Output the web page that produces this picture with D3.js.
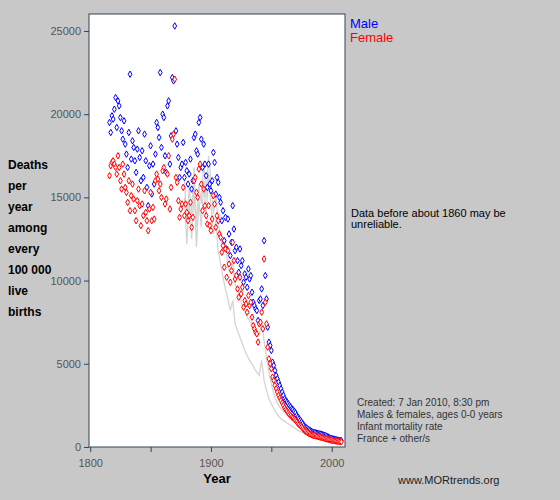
<!DOCTYPE html>
<html lang="en">
<head>
<meta charset="UTF-8" />
<script src="https://cdn.jsdelivr.net/npm/d3@7"></script>
<style>
  body { margin: 0; background: #c8c8c8; font-family: Arial, "Liberation Sans", sans-serif; }
  .tick text { fill: #555; font-size: 11px; }
  .tick line, .domain { stroke: #345; }
</style>
</head>
<body>
<svg id="chart" width="560" height="500"></svg>
<script>
  // infant mortality, deaths per 100 000 live births
  var firstYear = 1816;
  var male = [
    19500,18900,19900,19700,20300,21000,19200,20800,20500,19800,
    19000,18500,19600,18200,17600,16800,18900,22400,17300,18400,
    18000,17200,16500,17900,19000,17400,16000,17800,16200,18800,
    17200,15600,14500,16900,18100,15200,17000,15800,17600,19500,
    19200,18600,22500,18000,20000,19800,17500,16500,20500,20800,
    17000,18700,22200,22000,25300,19000,18200,17400,16200,16800,
    17000,18300,16200,17100,16600,15800,16400,17300,15500,16000,
    18600,18800,17800,17600,19500,19800,18500,16800,18200,17000,
    16300,15600,17000,15800,15400,16000,17700,17100,15200,16200,
    15900,15000,14700,13600,14200,12400,13800,11900,13700,12800,
    11500,12300,14500,13100,11800,12000,11200,10500,11900,10900,
    11200,9900,10400,10200,9600,10700,10100,10300,9300,8700,
    8500,8300,8200,7600,8800,8900,9500,8500,12400,10300,
    8900,7200,6300,6100,5800,5100,4900,4600,4300,4100,
    3900,3700,3500,3300,3100,2900,2800,2700,2600,2500,
    2400,2300,2250,2150,2050,1900,1800,1700,1600,1500,
    1400,1300,1200,1150,1100,1050,1000,950,900,880,
    870,850,820,800,790,780,760,720,700,680,
    640,600,560,530,510,490,470,450,430,420,
    400,390,380
  ];
  var female = [
    16300,16900,17100,17200,17000,16800,16400,17500,16800,16000,
    15500,17000,16400,15600,15300,14700,16000,14200,15100,15800,
    14900,14200,13600,14800,15500,14500,13300,14600,13900,15400,
    14100,13600,13000,14300,15300,13600,14400,13700,16000,16400,
    16100,15400,15800,15000,16600,16800,14600,14900,16400,17500,
    14300,15600,18500,18800,22100,16200,15900,14800,13800,14300,
    14600,15600,13900,14600,14100,13600,13900,14700,13200,13800,
    16000,16200,15300,15000,16700,17000,15800,14200,15500,14500,
    13900,13400,14500,13300,13000,13700,15100,14600,13200,13900,
    13600,12800,12600,11700,12100,10800,11900,10200,11800,11000,
    9900,10600,12300,11200,10100,10300,9500,9000,10200,9200,
    9600,8400,8800,8600,8100,9100,8500,8700,7800,7300,
    7100,6900,6800,6300,7400,7500,8100,7100,11300,8700,
    7400,6000,5300,5000,4700,4200,4000,3700,3500,3300,
    3100,2950,2800,2650,2500,2350,2250,2150,2050,1950,
    1880,1800,1750,1680,1600,1500,1420,1350,1270,1200,
    1120,1040,960,910,860,820,780,740,710,690,
    680,660,640,620,600,580,560,540,520,500,
    480,460,440,420,400,380,370,360,350,340,
    330,320,310
  ];
  // other countries, every 2 years from 1878
  var otherFirstYear = 1878;
  var otherA = [
    16200,13500,15600,14000,16800,13200,15800,14600,17200,15000,
    17500,16000,14000,15200,13400,12800,11800,12400,10800,10500,
    11200,9800,9400,9000,8500,8200,7800,7600,7400,7100,
    6800,6700,7600,6400,5400,4500,3800,3200,2800,2500,
    2300,2150,2000,1850,1750,1600,1500,1400,1250,1100,
    1000,950,880,820,760,700,650,600,560,520,
    480,450,420,400,380,360
  ];
  var otherB = [
    15000,12200,14800,12500,15500,12000,14800,13200,16000,13800,
    16500,14500,12800,13600,11800,11000,10200,9500,8900,8200,
    8800,7400,7000,6600,6200,5800,5500,5200,5000,4700,
    4500,4300,5200,4000,3400,2900,2600,2300,2050,1850,
    1700,1600,1500,1400,1300,1200,1100,1000,920,850,
    780,720,670,620,580,540,500,470,440,410,
    390,370,350,330,310,300
  ];
  var yLabel = ["Deaths", "per", "year", "among", "every", "100 000", "live", "births"];
  var notes = ["Created: 7 Jan 2010, 8:30 pm", "Males & females, ages 0-0 years",
               "Infant mortality rate", "France + other/s"];

  var svg = d3.select("#chart");
  var plotLeft = 89, plotRight = 345, plotTop = 14, plotBottom = 447;

  var x = d3.scaleLinear().domain([1799, 2011]).range([plotLeft, plotRight]);
  var y = d3.scaleLinear().domain([0, 26020]).range([plotBottom, plotTop]);

  svg.append("rect")
    .attr("x", plotLeft).attr("y", plotTop)
    .attr("width", plotRight - plotLeft).attr("height", plotBottom - plotTop)
    .attr("fill", "#fff").attr("stroke", "#345");

  var line = d3.line()
    .x(function (d) { return x(d.year); })
    .y(function (d) { return y(d.value); });

  [otherA, otherB].forEach(function (s) {
    var pts = s.map(function (v, i) { return { year: otherFirstYear + 2 * i, value: v }; });
    svg.append("path").datum(pts)
      .attr("d", line).attr("fill", "none")
      .attr("stroke", "#d4d4d4").attr("stroke-width", 1.3);
  });

  var diamond = d3.symbol().type(d3.symbolDiamond).size(12);
  [[male, "#0000ff"], [female, "#ff0000"]].forEach(function (s) {
    svg.append("g").selectAll("path")
      .data(s[0])
      .join("path")
      .attr("d", diamond)
      .attr("transform", function (d, i) {
        return "translate(" + x(firstYear + i) + "," + y(d) + ")";
      })
      .attr("fill", "#fff").attr("stroke", s[1]).attr("stroke-width", 1);
  });

  var xAxis = svg.append("g").attr("transform", "translate(0," + plotBottom + ")")
    .call(d3.axisBottom(x).tickValues([1800, 1850, 1900, 1950, 2000])
      .tickSize(5).tickFormat(function (d) { return d % 100 === 0 ? d : ""; }));
  xAxis.select(".domain").remove();
  xAxis.selectAll("text").attr("dy", "1.1em");

  var yAxis = svg.append("g").attr("transform", "translate(" + plotLeft + ",0)")
    .call(d3.axisLeft(y).tickValues([0, 5000, 10000, 15000, 20000, 25000])
      .tickSize(5).tickFormat(d3.format("d")));
  yAxis.select(".domain").remove();

  svg.append("text").attr("x", 217).attr("y", 483)
    .attr("text-anchor", "middle").attr("font-weight", "bold")
    .attr("font-size", 13).text("Year");

  svg.append("g").selectAll("text").data(yLabel).join("text")
    .attr("x", 8).attr("y", function (d, i) { return 169 + i * 21; })
    .attr("font-weight", "bold").attr("font-size", 12).text(function (d) { return d; });

  svg.append("text").attr("x", 350).attr("y", 28).attr("fill", "#0000ff")
    .attr("font-size", 13).text("Male");
  svg.append("text").attr("x", 350).attr("y", 42).attr("fill", "#ff0000")
    .attr("font-size", 13).text("Female");

  svg.append("text").attr("x", 351).attr("y", 217).attr("font-size", 11)
    .text("Data before about 1860 may be");
  svg.append("text").attr("x", 351).attr("y", 228).attr("font-size", 11)
    .text("unreliable.");

  svg.append("g").selectAll("text").data(notes).join("text")
    .attr("x", 357).attr("y", function (d, i) { return 406 + i * 12; })
    .attr("font-size", 10).attr("fill", "#333").text(function (d) { return d; });

  svg.append("text").attr("x", 398).attr("y", 484).attr("font-size", 11)
    .attr("fill", "#222").text("www.MORtrends.org");
</script>
</body>
</html>
